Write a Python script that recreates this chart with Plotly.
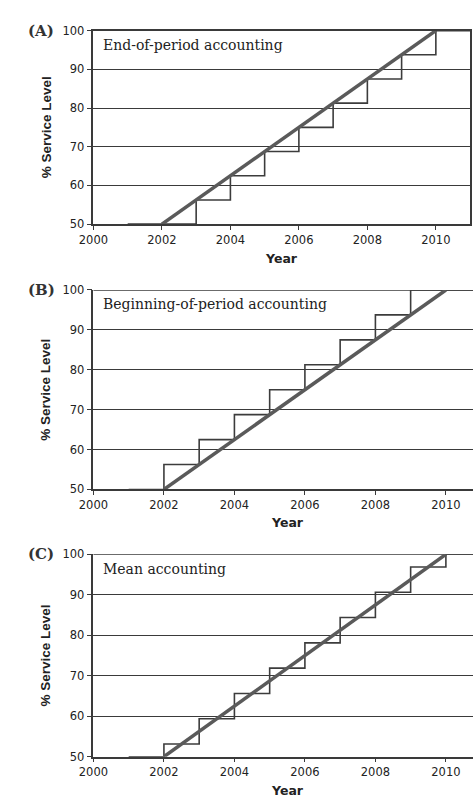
import plotly.graph_objects as go

# Years and service-level series
years = [2001, 2002, 2003, 2004, 2005, 2006, 2007, 2008, 2009, 2010, 2011]
target_years = [2002, 2010]
target_level = [50, 100]
end_of_period = [50, 50, 56.25, 62.5, 68.75, 75, 81.25, 87.5, 93.75, 100, 100]
beginning_of_period = [50, 56.25, 62.5, 68.75, 75, 81.25, 87.5, 93.75, 100, 100, 100]
mean_accounting = [50, 53.125, 59.375, 65.625, 71.875, 78.125, 84.375, 90.625, 96.875, 100, 100]

panel_letters = ["(A)", "(B)", "(C)"]
panel_titles = ["End-of-period accounting", "Beginning-of-period accounting", "Mean accounting"]
y_ticks = [50, 60, 70, 80, 90, 100]
x_ticks = [2000, 2002, 2004, 2006, 2008, 2010]

W, H = 473, 804
steps = [end_of_period, beginning_of_period, mean_accounting]

# pixel boxes for each panel: (left, right, top, bottom)
boxes = [(81, 470, 24, 221), (81, 473, 288, 491), (81, 473, 557, 763)]
x_ranges = [[2000, 2011], [2000, 2000 + 392 / 36.4], [2000, 2000 + 392 / 36.4]]
xtitle_pos = [(275, 256), (281, 525), (281, 797)]

STEP_C = "#3c3c3c"
DIAG_C = "#5a5a5a"
GRID_C = "#3a3a3a"

fig = go.Figure()
for i in range(3):
    xa = "x" if i == 0 else f"x{i+1}"
    ya = "y" if i == 0 else f"y{i+1}"
    fig.add_trace(go.Scatter(x=years, y=steps[i], mode="lines", line=dict(color=STEP_C, width=1.6, shape="hv"),
                             xaxis=xa, yaxis=ya, showlegend=False, hoverinfo="skip", cliponaxis=False))
    fig.add_trace(go.Scatter(x=target_years, y=target_level, mode="lines", line=dict(color=DIAG_C, width=3.5),
                             xaxis=xa, yaxis=ya, showlegend=False, hoverinfo="skip", cliponaxis=False))

layout = dict(width=W, height=H, margin=dict(l=0, r=0, t=0, b=0),
              plot_bgcolor="white", paper_bgcolor="white", showlegend=False)

annotations = []
shapes = []
tick_font = dict(family="DejaVu Sans", size=11.5, color="#222")
for i, (l, r, t, b) in enumerate(boxes):
    sfx = "" if i == 0 else str(i + 1)
    framed = i == 0
    layout["xaxis" + sfx] = dict(
        domain=[l / W, min(r / W, 1.0)], range=x_ranges[i], anchor="y" + sfx,
        tickvals=x_ticks, ticks="outside", ticklen=4, tickwidth=1, tickcolor=GRID_C,
        showgrid=False, zeroline=False, showline=True, linecolor=GRID_C, linewidth=1.5,
        mirror=True if framed else False, tickfont=tick_font, fixedrange=True)
    layout["yaxis" + sfx] = dict(
        domain=[(H - b) / H, (H - t) / H], range=[50, 100], anchor="x" + sfx,
        tickvals=y_ticks, ticks="outside", ticklen=5, tickwidth=1, tickcolor=GRID_C,
        showgrid=True, gridcolor=GRID_C, gridwidth=1.3, zeroline=False,
        showline=True, linecolor=GRID_C, linewidth=1.5, mirror=True if framed else False,
        tickfont=tick_font, fixedrange=True)
    if not framed:
        # top line at 100 running across the panel
        shapes.append(dict(type="line", xref=f"x{sfx} domain", yref=f"y{sfx}", x0=0, x1=1, y0=100, y1=100,
                           line=dict(color=GRID_C, width=1.5), layer="below"))
    # panel letter
    annotations.append(dict(text="<b>" + panel_letters[i] + "</b>", x=11 / W, y=(H - t) / H,
                            xref="paper", yref="paper", xanchor="left", yanchor="middle", showarrow=False,
                            font=dict(family="DejaVu Serif", size=15, color="#333")))
    # panel description
    annotations.append(dict(text=panel_titles[i], x=(l + 8) / W, y=(H - t - 14.5) / H,
                            xref="paper", yref="paper", xanchor="left", yanchor="middle", showarrow=False,
                            font=dict(family="DejaVu Serif", size=14, color="#222")))
    # y title
    annotations.append(dict(text="<b>% Service Level</b>", x=32 / W, y=(H - (t + b) / 2) / H,
                            xref="paper", yref="paper", xanchor="center", yanchor="middle", showarrow=False,
                            textangle=-90, font=dict(family="Liberation Sans, Arial", size=13.5, color="#222")))
    # x title
    xt, yt = xtitle_pos[i]
    annotations.append(dict(text="<b>Year</b>", x=xt / W, y=(H - yt) / H,
                            xref="paper", yref="paper", xanchor="center", yanchor="middle", showarrow=False,
                            font=dict(family="DejaVu Sans", size=12.5, color="#222")))

layout["annotations"] = annotations
layout["shapes"] = shapes
fig.update_layout(**layout)
fig.write_html("out.html")
